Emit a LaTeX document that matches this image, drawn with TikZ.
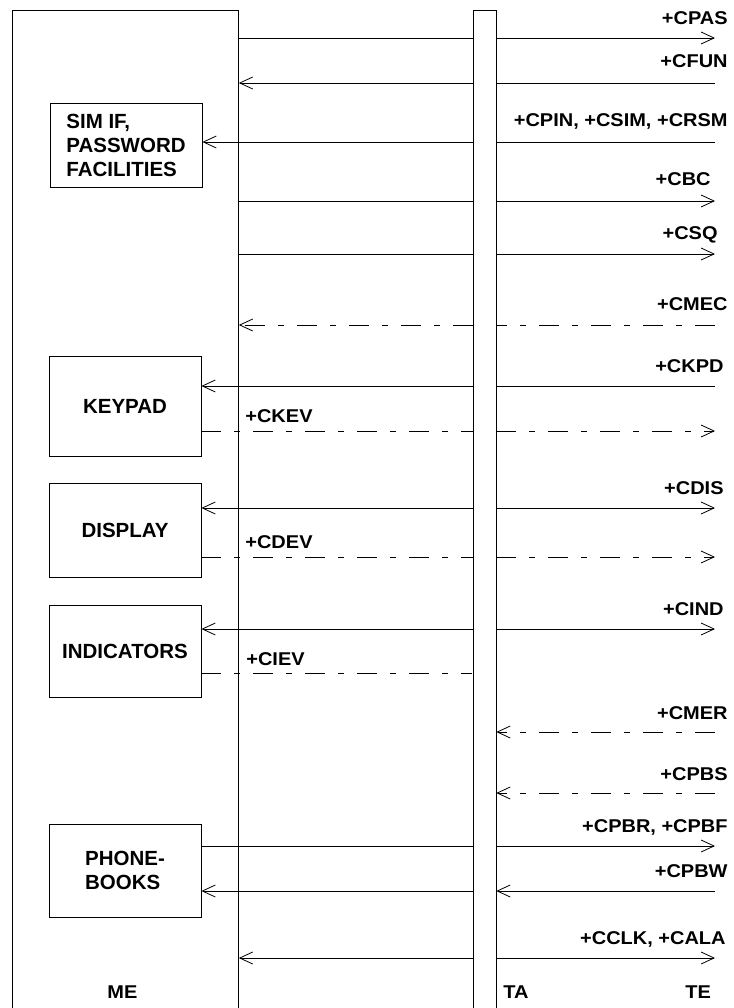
\documentclass[tikz,border=0pt]{standalone}
\usepackage{fontspec}
\setmainfont{Liberation Sans}
\newfontfamily\lblfont[FakeStretch=1.08]{Liberation Sans}
\usetikzlibrary{arrows.meta}

\begin{document}
\begin{tikzpicture}[x=1pt, y=-1pt, line width=0.8pt, >={Straight Barb[length=13pt,width=12pt]}]
\tikzstyle{blk} = [rectangle, draw, align=left, minimum width=152pt, font=\bfseries\fontsize{20.5}{24}\selectfont]
\tikzstyle{lbl} = [inner sep=0pt, font=\lblfont\bfseries\fontsize{18.5}{20}\selectfont]
\tikzstyle{dashdot} = [dash pattern=on 20pt off 13pt on 6pt off 13pt]

\clip (0,0) rectangle (733,1008);

% ME, TA
\node[draw, fill=white, minimum width=226pt, minimum height=1030pt, anchor=north west, inner sep=0pt] (me) at (12,10) {};
\node[draw, fill=white, minimum width=23pt, minimum height=1030pt, anchor=north west, inner sep=0pt] (ta) at (472.5,10.5) {};

% boxes in ME
\node[blk, minimum height=84pt] (sim) at (126,145) {SIM IF,\\PASSWORD\\FACILITIES};
\node[blk, minimum height=100pt] (keypad) at (125,406) {KEYPAD};
\node[blk, minimum height=94pt] (display) at (125,530) {DISPLAY};
\node[blk, minimum height=92pt] (indicators) at (125,651) {INDICATORS};
\node[blk, minimum height=93pt] (phonebooks) at (125,870.5) {PHONE-\\BOOKS};

% TE ends
\coordinate (te-cpas) at (715,38);
\coordinate (te-cfun) at (715,83);
\coordinate (te-cpin) at (715,142);
\coordinate (te-cbc) at (715,201);
\coordinate (te-csq) at (715,254);
\coordinate (te-cmec) at (715,325);
\coordinate (te-ckpd) at (715,386);
\coordinate (te-ckev) at (715,431);
\coordinate (te-cdis) at (715,508);
\coordinate (te-cdev) at (715,557);
\coordinate (te-cind) at (715,629);
\coordinate (te-ciev) at (472,673);
\coordinate (te-cmer) at (715,732);
\coordinate (te-cpbs) at (715,793);
\coordinate (te-cpbr) at (715,846);
\coordinate (te-cpbw) at (715,891);
\coordinate (te-cclk) at (715,958);

% connectors
\draw (me.east |- te-cpas) -- (ta.west |- te-cpas);
\draw[->] (ta.east |- te-cpas) -- (te-cpas);
\draw (te-cfun) -- (ta.east |- te-cfun);
\draw[->] (ta.west |- te-cfun) -- (me.east |- te-cfun);
\draw (te-cpin) -- (ta.east |- te-cpin);
\draw[->] (ta.west |- te-cpin) -- (sim.east |- te-cpin);
\draw (me.east |- te-cbc) -- (ta.west |- te-cbc);
\draw[->] (ta.east |- te-cbc) -- (te-cbc);
\draw (me.east |- te-csq) -- (ta.west |- te-csq);
\draw[->] (ta.east |- te-csq) -- (te-csq);
\draw[dashdot] (te-cmec) -- (ta.east |- te-cmec);
\draw[dashdot, ->] (ta.west |- te-cmec) -- (me.east |- te-cmec);
\draw (te-ckpd) -- (ta.east |- te-ckpd);
\draw[->] (ta.west |- te-ckpd) -- (keypad.east |- te-ckpd);
\draw[dashdot] (keypad.east |- te-ckev) -- (ta.west |- te-ckev);
\draw[dashdot, ->] (ta.east |- te-ckev) -- (te-ckev);
\draw[->] (ta.west |- te-cdis) -- (display.east |- te-cdis);
\draw[->] (ta.east |- te-cdis) -- (te-cdis);
\draw[dashdot] (display.east |- te-cdev) -- (ta.west |- te-cdev);
\draw[dashdot, ->] (ta.east |- te-cdev) -- (te-cdev);
\draw[->] (ta.west |- te-cind) -- (indicators.east |- te-cind);
\draw[->] (ta.east |- te-cind) -- (te-cind);
\draw[dashdot] (indicators.east |- te-ciev) -- (te-ciev);
\draw[dashdot, ->] (te-cmer) -- (ta.east |- te-cmer);
\draw[dashdot, ->] (te-cpbs) -- (ta.east |- te-cpbs);
\draw (phonebooks.east |- te-cpbr) -- (ta.west |- te-cpbr);
\draw[->] (ta.east |- te-cpbr) -- (te-cpbr);
\draw[->] (te-cpbw) -- (ta.east |- te-cpbw);
\draw[->] (ta.west |- te-cpbw) -- (phonebooks.east |- te-cpbw);
\draw[->] (ta.west |- te-cclk) -- (me.east |- te-cclk);
\draw[->] (ta.east |- te-cclk) -- (te-cclk);

% labels
\node[lbl, anchor=base east] (lbl-cpas) at (728,25) {+CPAS};
\node[lbl, anchor=base east] (lbl-cfun) at (728,68) {+CFUN};
\node[lbl, anchor=base east] (lbl-cpin) at (728,127) {+CPIN, +CSIM, +CRSM};
\node[lbl, anchor=base east] (lbl-cbc) at (711,186) {+CBC};
\node[lbl, anchor=base east] (lbl-csq) at (718,240) {+CSQ};
\node[lbl, anchor=base east] (lbl-cmec) at (728,310) {+CMEC};
\node[lbl, anchor=base east] (lbl-ckpd) at (724,372) {+CKPD};
\node[lbl, anchor=base west] (lbl-ckev) at (245,422) {+CKEV};
\node[lbl, anchor=base east] (lbl-cdis) at (724,494) {+CDIS};
\node[lbl, anchor=base west] (lbl-cdev) at (245,548) {+CDEV};
\node[lbl, anchor=base east] (lbl-cind) at (724,615) {+CIND};
\node[lbl, anchor=base west] (lbl-ciev) at (246,665) {+CIEV};
\node[lbl, anchor=base east] (lbl-cmer) at (728,719) {+CMER};
\node[lbl, anchor=base east] (lbl-cpbs) at (728,780) {+CPBS};
\node[lbl, anchor=base east] (lbl-cpbr) at (728,832) {+CPBR, +CPBF};
\node[lbl, anchor=base east] (lbl-cpbw) at (728,877) {+CPBW};
\node[lbl, anchor=base east] (lbl-cclk) at (726,944) {+CCLK, +CALA};

\node[lbl, anchor=base west] (lbl-me) at (107,998) {ME};
\node[lbl, anchor=base west] (lbl-ta) at (503,998) {TA};
\node[lbl, anchor=base west] (lbl-te) at (685,998) {TE};

\end{tikzpicture}
\end{document}
